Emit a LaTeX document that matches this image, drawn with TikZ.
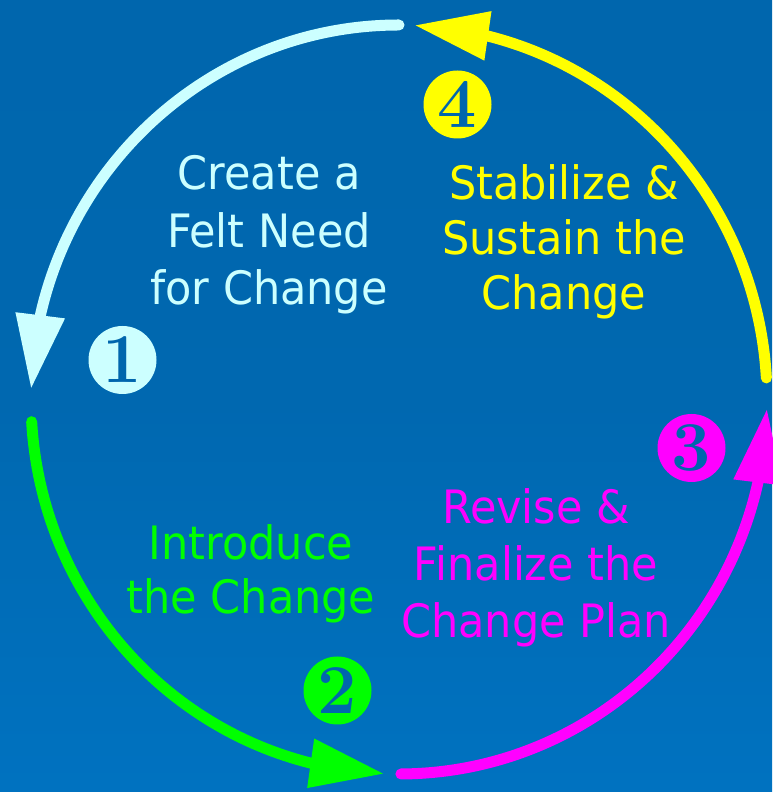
\documentclass[tikz,border=0pt]{standalone}
\usepackage{fontspec}
\newfontfamily\labelfont{DejaVu Sans}[FakeStretch=0.935]
\usetikzlibrary{arrows.meta,bending,calc}
\definecolor{bgtop}{HTML}{0066AD}
\definecolor{bgbot}{HTML}{0072C0}
\definecolor{cycCyan}{HTML}{CCFFFF}
\definecolor{cycGreen}{HTML}{00FF00}
\definecolor{cycMagenta}{HTML}{FF00FF}
\definecolor{cycYellow}{HTML}{FFFF00}
\begin{document}
\begin{tikzpicture}[x=1pt,y=1pt,
  cycleline/.style={line width=11pt, line cap=round,
    -{Triangle[length=73pt,width=50pt,line width=0pt,flex]}},
  steplabel/.style={font=\labelfont\fontsize{46}{#1}\selectfont,
    align=center, inner sep=0pt, anchor=base},
  badge/.style={circle, fill=#1, minimum size=68pt, inner sep=0pt,
    text=bgtop, font=\fontsize{70}{70}\selectfont\bfseries},
]
\useasboundingbox (0,0) rectangle (772,792);
\shade[top color=bgtop, bottom color=bgbot, middle color=bgtop!85!bgbot]
  (0,0) rectangle (772,792);

% centre and radii of the cycle
\coordinate (C) at (399,392.5);
\def\rx{368}
\def\ry{374.5}

% the four quarter arcs
\draw[cycleline, draw=cycCyan] ($(C)+(90:\rx pt and \ry pt)$) coordinate (s1)
  arc[start angle=90, end angle=178.2, x radius=\rx, y radius=\ry] coordinate (e1);
\draw[cycleline, draw=cycGreen] ($(C)+(183.4:\rx pt and \ry pt)$) coordinate (s2)
  arc[start angle=183.4, end angle=267.5, x radius=\rx, y radius=\ry] coordinate (e2);
\draw[cycleline, draw=cycMagenta] ($(C)+(270.3:\rx pt and \ry pt)$) coordinate (s3)
  arc[start angle=270.3, end angle=358.4, x radius=\rx, y radius=\ry] coordinate (e3);
\draw[cycleline, draw=cycYellow] ($(C)+(3.3:\rx pt and \ry pt)$) coordinate (s4)
  arc[start angle=3.3, end angle=87.4, x radius=\rx, y radius=\ry] coordinate (e4);

% step labels (anchored at the baseline of the last line)
\node[steplabel=57.5, text=cycCyan] (t1) at (269,487)
  {Create a\\Felt Need\\for Change};
\node[steplabel=54, text=cycGreen] (t2) at (251,178)
  {Introduce\\the Change};
\node[steplabel=57, text=cycMagenta] (t3) at (536,154)
  {Revise \&\\Finalize the\\Change Plan};
\node[steplabel=55, text=cycYellow] (t4) at (564,482)
  {Stabilize \&\\Sustain the\\Change};

% numbered badges
\node[badge=cycCyan] (n1) at (122.5,432) {1};
\node[badge=cycGreen] (n2) at (337.5,101.5) {2};
\node[badge=cycMagenta] (n3) at (691.5,344) {3};
\node[badge=cycYellow] (n4) at (457.5,687.5) {4};
\end{tikzpicture}
\end{document}
